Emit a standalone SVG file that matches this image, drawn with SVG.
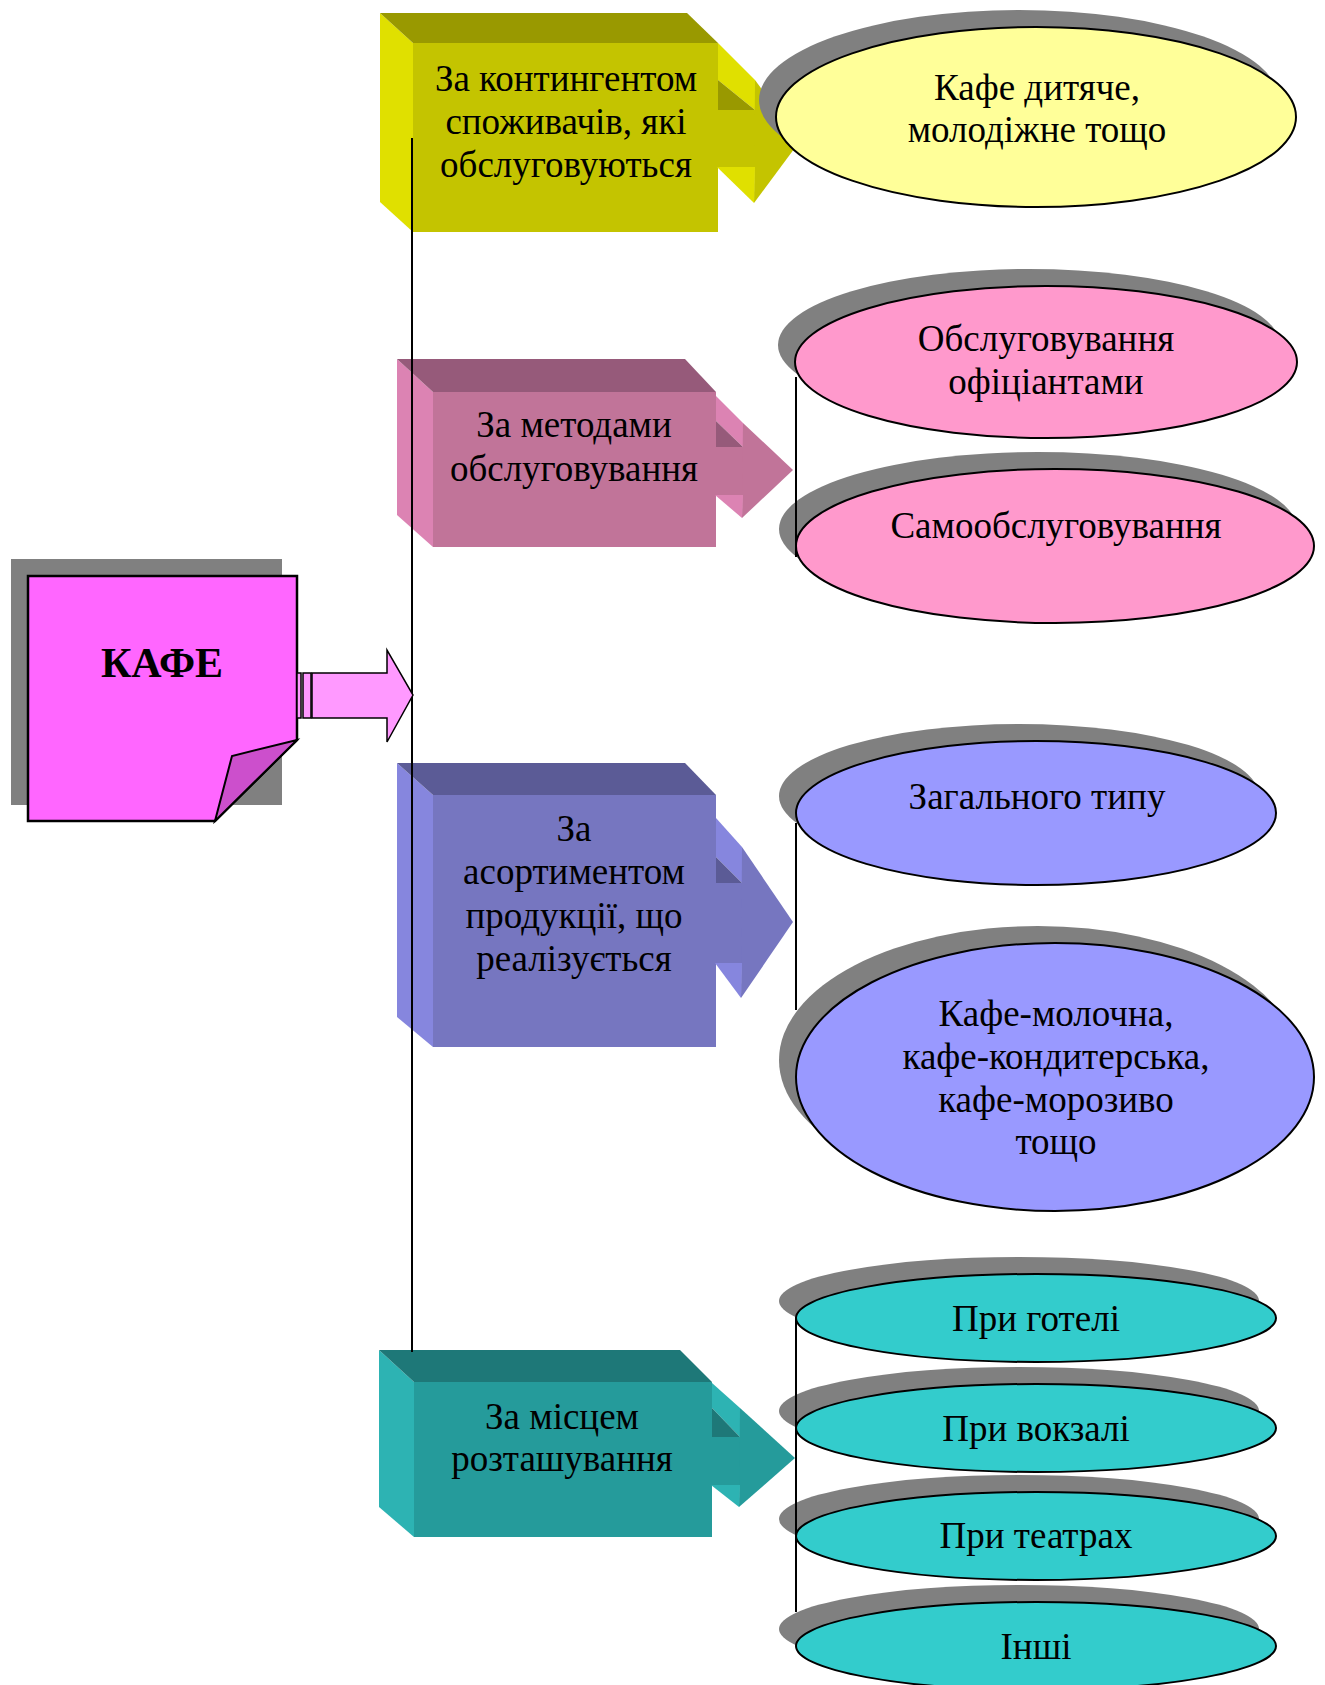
<svg xmlns="http://www.w3.org/2000/svg" width="1325" height="1685" viewBox="0 0 1325 1685">
<style>
text{font-family:"Liberation Serif","Times New Roman",serif;font-size:37px;fill:#000;text-anchor:middle}
.kafe{font-size:42px;font-weight:bold}
.sh{fill:#808080}
.el{stroke:#000;stroke-width:2}
.ln{stroke:#000;stroke-width:2;fill:none}
.y1{fill:#C4C400}.y2{fill:#999900}.y3{fill:#E0E000}
.p1{fill:#C17499}.p2{fill:#965A7A}.p3{fill:#DC83B3}
.v1{fill:#7676C0}.v2{fill:#5B5B96}.v3{fill:#8686DE}
.t1{fill:#259B9B}.t2{fill:#1E7878}.t3{fill:#2DB3B3}
</style>
<rect width="1325" height="1685" fill="#fff"/>

<g id="kafe">
<rect class="sh" x="11" y="559" width="271" height="246"/>
<polygon points="28,576 297,576 297,740 215,821 28,821" fill="#FF66FF" stroke="#000" stroke-width="2.5"/>
<polygon points="297,740 232,756 215,821" fill="#CC4FCC" stroke="#000" stroke-width="2"/>
<text class="kafe" x="162" y="677">КАФЕ</text>
</g>

<g id="box-contingent">
<polygon class="y3" points="380,13 413,43 413,232 380,202"/>
<polygon class="y2" points="380,13 687,13 718,43 413,43"/>
<rect class="y1" x="413" y="43" width="305" height="189"/>
<polygon class="y3" points="718,43 755,80 755,110 718,80"/>
<polygon class="y2" points="718,80 755,110 718,110"/>
<rect class="y1" x="717" y="110" width="39" height="57"/>
<polygon class="y1" points="755,80 800,141 754,203"/>
<polygon class="y3" points="717,167 755,167 754,203"/>
<text x="566" y="91">За контингентом</text>
<text x="566" y="134">споживачів, які</text>
<text x="566" y="177">обслуговуються</text>
</g>

<g id="box-methods">
<polygon class="p3" points="397,359 433,392 433,547 397,515"/>
<polygon class="p2" points="397,359 685,359 716,392 433,392"/>
<rect class="p1" x="433" y="392" width="283" height="155"/>
<polygon class="p3" points="716,396 743,423 743,447 716,421"/>
<polygon class="p2" points="716,421 743,447 716,447"/>
<rect class="p1" x="715" y="447" width="29" height="48"/>
<polygon class="p1" points="743,423 793,470 742,518"/>
<polygon class="p3" points="715,495 743,495 742,518"/>
<text x="574" y="437">За методами</text>
<text x="574" y="481">обслуговування</text>
</g>

<g id="box-assortment">
<polygon class="v3" points="397,763 433,795 433,1047 397,1017"/>
<polygon class="v2" points="397,763 685,763 716,795 433,795"/>
<rect class="v1" x="433" y="795" width="283" height="252"/>
<polygon class="v3" points="716,818 742,847 742,883 716,857"/>
<polygon class="v2" points="716,857 742,883 716,883"/>
<rect class="v1" x="715" y="883" width="28" height="80"/>
<polygon class="v1" points="742,847 793,922 741,998"/>
<polygon class="v3" points="715,963 742,963 741,998"/>
<text x="574" y="841">За</text>
<text x="574" y="884">асортиментом</text>
<text x="574" y="928">продукції, що</text>
<text x="574" y="971">реалізується</text>
</g>

<g id="box-location">
<polygon class="t3" points="379,1350 414,1382 414,1537 379,1507"/>
<polygon class="t2" points="379,1350 680,1350 712,1382 414,1382"/>
<rect class="t1" x="414" y="1382" width="298" height="155"/>
<polygon class="t3" points="712,1383 740,1408 740,1437 712,1408"/>
<polygon class="t2" points="712,1408 740,1437 712,1437"/>
<rect class="t1" x="711" y="1437" width="30" height="48"/>
<polygon class="t1" points="740,1408 795,1458 739,1507"/>
<polygon class="t3" points="711,1485 740,1485 739,1507"/>
<text x="562" y="1429">За місцем</text>
<text x="562" y="1471">розташування</text>
</g>

<g id="el-children">
<ellipse class="sh" cx="1019" cy="100" rx="260" ry="90"/>
<ellipse class="el" cx="1036" cy="117" rx="260" ry="90" fill="#FFFF99"/>
<text x="1037" y="100">Кафе дитяче,</text>
<text x="1037" y="142">молодіжне тощо</text>
</g>

<g id="el-waiters">
<ellipse class="sh" cx="1029" cy="345" rx="251" ry="76"/>
<ellipse class="el" cx="1046" cy="362" rx="251" ry="76" fill="#FF99CC"/>
<text x="1046" y="351">Обслуговування</text>
<text x="1046" y="394">офіціантами</text>
</g>

<g id="el-self">
<ellipse class="sh" cx="1038" cy="529" rx="259" ry="77"/>
<ellipse class="el" cx="1055" cy="546" rx="259" ry="77" fill="#FF99CC"/>
<text x="1056" y="538">Самообслуговування</text>
</g>

<g id="el-general">
<ellipse class="sh" cx="1019" cy="796" rx="240" ry="72"/>
<ellipse class="el" cx="1036" cy="813" rx="240" ry="72" fill="#9999FF"/>
<text x="1037" y="809">Загального типу</text>
</g>

<g id="el-special">
<ellipse class="sh" cx="1038" cy="1060" rx="259" ry="134"/>
<ellipse class="el" cx="1055" cy="1077" rx="259" ry="134" fill="#9999FF"/>
<text x="1056" y="1026">Кафе-молочна,</text>
<text x="1056" y="1069">кафе-кондитерська,</text>
<text x="1056" y="1112">кафе-морозиво</text>
<text x="1056" y="1154">тощо</text>
</g>

<g id="el-hotel">
<ellipse class="sh" cx="1019" cy="1301" rx="240" ry="44"/>
<ellipse class="el" cx="1036" cy="1318" rx="240" ry="44" fill="#33CCCC"/>
<text x="1036" y="1331">При готелі</text>
</g>

<g id="el-station">
<ellipse class="sh" cx="1019" cy="1411" rx="240" ry="44"/>
<ellipse class="el" cx="1036" cy="1428" rx="240" ry="44" fill="#33CCCC"/>
<text x="1036" y="1441">При вокзалі</text>
</g>

<g id="el-theatre">
<ellipse class="sh" cx="1019" cy="1519" rx="240" ry="44"/>
<ellipse class="el" cx="1036" cy="1536" rx="240" ry="44" fill="#33CCCC"/>
<text x="1036" y="1548">При театрах</text>
</g>

<g id="el-other">
<ellipse class="sh" cx="1019" cy="1629" rx="240" ry="44"/>
<ellipse class="el" cx="1036" cy="1646" rx="240" ry="44" fill="#33CCCC"/>
<text x="1036" y="1659">Інші</text>
</g>

<g id="connectors">
<line class="ln" x1="412" y1="138" x2="412" y2="1352"/>
<line class="ln" x1="796" y1="377" x2="796" y2="557"/>
<line class="ln" x1="796" y1="823" x2="796" y2="1010"/>
<line class="ln" x1="796" y1="1317" x2="796" y2="1612"/>
<rect x="297" y="673" width="4" height="45" fill="#FF99FF" stroke="#000" stroke-width="1.5"/>
<rect x="303" y="673" width="8" height="45" fill="#FF99FF" stroke="#000" stroke-width="1.5"/>
<polygon points="312,673 387,673 387,650 413,695 387,742 387,718 312,718" fill="#FF99FF" stroke="#000" stroke-width="1.5"/>
</g>
</svg>
